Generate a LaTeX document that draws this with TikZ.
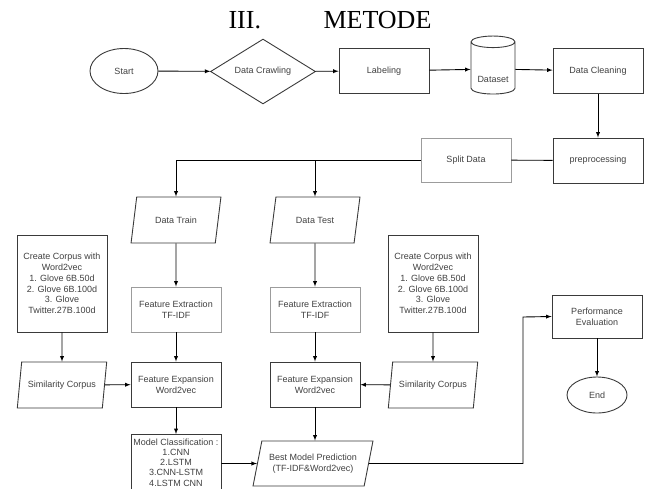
\documentclass[tikz,border=0pt]{standalone}
\usepackage{fontspec}
\setmainfont{Liberation Serif}
\newfontfamily\flowfont{Liberation Sans}
\usetikzlibrary{shapes.geometric, arrows, calc}
\definecolor{edgedark}{HTML}{3A3A3A}
\definecolor{edgelight}{HTML}{9C9C9C}
\definecolor{flowtext}{HTML}{404040}

\begin{document}
\begin{tikzpicture}[x=1pt, y=-1pt, >=latex]
      \tikzset{flow node/.style={draw=#1,
          line width=0.9pt,
          text=flowtext,
          align=center,
          inner sep=1pt,
          font=\flowfont\fontsize{9}{10.8}\selectfont},
        flow node/.default=edgedark,
        process/.style={flow node=#1, rectangle, minimum width=90, minimum height=45},
        process/.default=edgedark,
        io/.style={flow node, trapezium, trapezium left angle=70,
          trapezium right angle=110, trapezium stretches=true,
          minimum width=90, minimum height=46},
        terminal/.style={flow node, ellipse, inner sep=0pt},
        flow/.style={->, line width=0.9pt, black}
      }
      \useasboundingbox (0,0) rectangle (647,488);
      % heading
      \node [anchor=base west, font=\fontsize{26}{30}\selectfont] (secnum) at (225,28) {III.};
      \node [anchor=base west, font=\fontsize{26}{30}\selectfont] (sectitle) at (320,28) {METODE};

      % first row
      \node [terminal, minimum width=68, minimum height=45] (start) at (124,71) {Start};
      \node [flow node, diamond, inner sep=0pt, minimum width=105, minimum height=59] (crawl) at (263,71.5) {Data Crawling};
      \node [process] (labeling) at (384,71) {Labeling};
      \node [flow node, cylinder, shape border rotate=90, aspect=0.35,
        minimum width=44, minimum height=58] (dataset) at (493,69) {\smash{\raisebox{-13pt}{Dataset}}};
      \node [process] (cleaning) at (598,71) {Data Cleaning};
      \node [process] (preproc) at (598,160.5) {preprocessing};
      \node [process=edgelight, minimum height=44] (split) at (466,160) {Split Data};

      % train / test columns
      \node [io] (train) at (176,220) {Data Train};
      \node [io] (test) at (315,220) {Data Test};
      \node [process=edgelight] (extrtrain) at (176,309.5) {Feature Extraction\\TF-IDF};
      \node [process=edgelight] (extrtest) at (315,309.5) {Feature Extraction\\TF-IDF};
      \node [process] (expantrain) at (176,384.5) {Feature Expansion\\Word2vec};
      \node [process] (expantest) at (315,384.5) {Feature Expansion\\Word2vec};
      \node [process, minimum height=56, font=\flowfont\fontsize{9}{10.2}\selectfont] (model) at (176,462.5)
        {Model Classification :\\1.CNN\\2.LSTM\\3.CNN-LSTM\\4.LSTM CNN};
      \node [io, minimum width=120, minimum height=45] (best) at (313,463.5)
        {Best Model Prediction\\(TF-IDF\&Word2vec)};

      % corpus side
      \node [process, minimum height=97] (corpusleft) at (62,283.5)
        {Create Corpus with\\Word2vec\\1. Glove 6B.50d\\2. Glove 6B.100d\\3. Glove\\Twitter.27B.100d};
      \node [process, minimum height=97] (corpusright) at (433,283.5)
        {Create Corpus with\\Word2vec\\1. Glove 6B.50d\\2. Glove 6B.100d\\3. Glove\\Twitter.27B.100d};
      \node [io] (simleft) at (62,385) {Similarity Corpus};
      \node [io] (simright) at (433,385) {Similarity Corpus};

      % evaluation
      \node [process, minimum height=43] (perf) at (597,316.5) {Performance\\Evaluation};
      \node [terminal, minimum width=60, minimum height=36] (finish) at (597,395) {End};
      \coordinate (turn) at (523,317);

      \draw [flow] (start)--(crawl);
      \draw [flow] (crawl)--(labeling);
      \draw [flow] (labeling)--(dataset);
      \draw [flow] (dataset)--(cleaning);
      \draw [flow] (cleaning)--(preproc);
      \draw [line width=0.9pt] (preproc)--(split);
      \draw [flow] (split.west) -| (train.north);
      \draw [flow] (split.west) -| (test.north);
      \draw [flow] (train)--(extrtrain);
      \draw [flow] (test)--(extrtest);
      \draw [flow] (extrtrain)--(expantrain);
      \draw [flow] (extrtest)--(expantest);
      \draw [flow] (corpusleft)--(simleft);
      \draw [flow] (corpusright)--(simright);
      \draw [flow] (simleft)--(expantrain);
      \draw [flow] (simright)--(expantest);
      \draw [flow] (expantrain)--(model);
      \draw [flow] (expantest)--(best.north-|expantest);
      \draw [flow] (model.east|-best)--(best);
      \draw [flow] (best.east) -| (turn) -- (perf.west);
      \draw [flow] (perf)--(finish);

    \end{tikzpicture}
\end{document}
